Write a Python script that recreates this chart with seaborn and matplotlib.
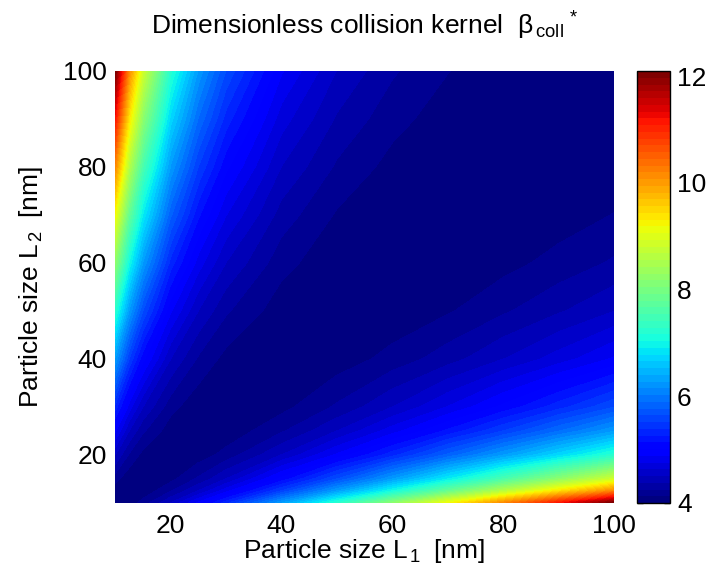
import numpy as np
import matplotlib
matplotlib.use("Agg")
import matplotlib.pyplot as plt
import seaborn as sns

# Particle sizes (nm) at which the kernel was read
L1_nm = [10, 12.5, 15, 20, 25, 30, 40, 50, 60, 70, 80, 90, 100]
L2_nm = [10, 12.5, 15, 20, 25, 30, 40, 50, 60, 70, 80, 90, 100]

# Dimensionless collision kernel, rows = L2, columns = L1
beta_L2_10   = [4.00, 4.05, 4.17, 4.50, 4.90, 5.33, 6.25, 7.20, 8.17, 9.14, 10.13, 11.11, 12.10]
beta_L2_12_5 = [4.05, 4.00, 4.03, 4.23, 4.50, 4.82, 5.51, 6.25, 7.01, 7.78, 8.56, 9.34, 10.13]
beta_L2_15   = [4.17, 4.03, 4.00, 4.08, 4.27, 4.50, 5.04, 5.63, 6.25, 6.88, 7.52, 8.17, 8.82]
beta_L2_20   = [4.50, 4.23, 4.08, 4.00, 4.05, 4.17, 4.50, 4.90, 5.33, 5.79, 6.25, 6.72, 7.20]
beta_L2_25   = [4.90, 4.50, 4.27, 4.05, 4.00, 4.03, 4.23, 4.50, 4.82, 5.16, 5.51, 5.88, 6.25]
beta_L2_30   = [5.33, 4.82, 4.50, 4.17, 4.03, 4.00, 4.08, 4.27, 4.50, 4.76, 5.04, 5.33, 5.63]
beta_L2_40   = [6.25, 5.51, 5.04, 4.50, 4.23, 4.08, 4.00, 4.05, 4.17, 4.32, 4.50, 4.69, 4.90]
beta_L2_50   = [7.20, 6.25, 5.63, 4.90, 4.50, 4.27, 4.05, 4.00, 4.03, 4.11, 4.23, 4.36, 4.50]
beta_L2_60   = [8.17, 7.01, 6.25, 5.33, 4.82, 4.50, 4.17, 4.03, 4.00, 4.02, 4.08, 4.17, 4.27]
beta_L2_70   = [9.14, 7.78, 6.88, 5.79, 5.16, 4.76, 4.32, 4.11, 4.02, 4.00, 4.02, 4.06, 4.13]
beta_L2_80   = [10.13, 8.56, 7.52, 6.25, 5.51, 5.04, 4.50, 4.23, 4.08, 4.02, 4.00, 4.01, 4.05]
beta_L2_90   = [11.11, 9.34, 8.17, 6.72, 5.88, 5.33, 4.69, 4.36, 4.17, 4.06, 4.01, 4.00, 4.01]
beta_L2_100  = [12.10, 10.13, 8.82, 7.20, 6.25, 5.63, 4.90, 4.50, 4.27, 4.13, 4.05, 4.01, 4.00]

axis_ticks = [20, 40, 60, 80, 100]
cbar_ticks = [4, 6, 8, 10, 12]
cbar_range = [4.0, 12.1]

sns.set_theme(style="white")
plt.rcParams["font.family"] = ["Liberation Sans", "DejaVu Sans"]
plt.rcParams["mathtext.fontset"] = "custom"
plt.rcParams["mathtext.rm"] = "Liberation Sans"
plt.rcParams["mathtext.it"] = "Liberation Sans:italic"
plt.rcParams["mathtext.default"] = "rm"

Z = np.array([beta_L2_10, beta_L2_12_5, beta_L2_15, beta_L2_20, beta_L2_25,
              beta_L2_30, beta_L2_40, beta_L2_50, beta_L2_60, beta_L2_70,
              beta_L2_80, beta_L2_90, beta_L2_100])
X, Y = np.meshgrid(L1_nm, L2_nm)

W, H = 709, 569
fig = plt.figure(figsize=(W / 100, H / 100), dpi=100)
ax = fig.add_axes([115 / W, 1 - 503 / H, (614 - 115) / W, (503 - 71) / H])
cax = fig.add_axes([637 / W, 1 - 503 / H, (670 - 637) / W, (503 - 71) / H])

jet64 = plt.get_cmap("jet", 64)
levels = np.linspace(cbar_range[0], cbar_range[1], 65)
cf = ax.contourf(X, Y, Z, levels=levels, cmap=jet64)
cf.set_edgecolor("face")
cf.set_linewidth(0.6)

ax.set_xlim(10, 100)
ax.set_ylim(10, 100)
ax.set_xticks(axis_ticks)
ax.set_yticks(axis_ticks)
ax.tick_params(axis="x", length=0, labelsize=19, pad=8, colors="black")
ax.tick_params(axis="y", length=0, labelsize=19, pad=6, colors="black")
for s in ax.spines.values():
    s.set_visible(False)

ax.set_xlabel("Particle size L$_{\\,1}$\u2009 [nm]", fontsize=19, labelpad=-1, color="black")
ax.set_ylabel("Particle size L$_{\\,2}$\u2009 [nm]", fontsize=19, labelpad=13, color="black")
ax.set_title("Dimensionless collision kernel  β$_{\\,\\rm coll}$$^{\\,*}$", fontsize=19,
             pad=26, color="black")

cb = fig.colorbar(cf, cax=cax, ticks=cbar_ticks)
cb.outline.set_linewidth(1.0)
cb.outline.set_edgecolor("black")
cax.tick_params(direction="in", left=True, right=True, length=4, width=1,
                labelsize=19, pad=5, colors="black")
cax.yaxis.set_ticks_position("both")

fig.savefig("out.png", dpi=100)
